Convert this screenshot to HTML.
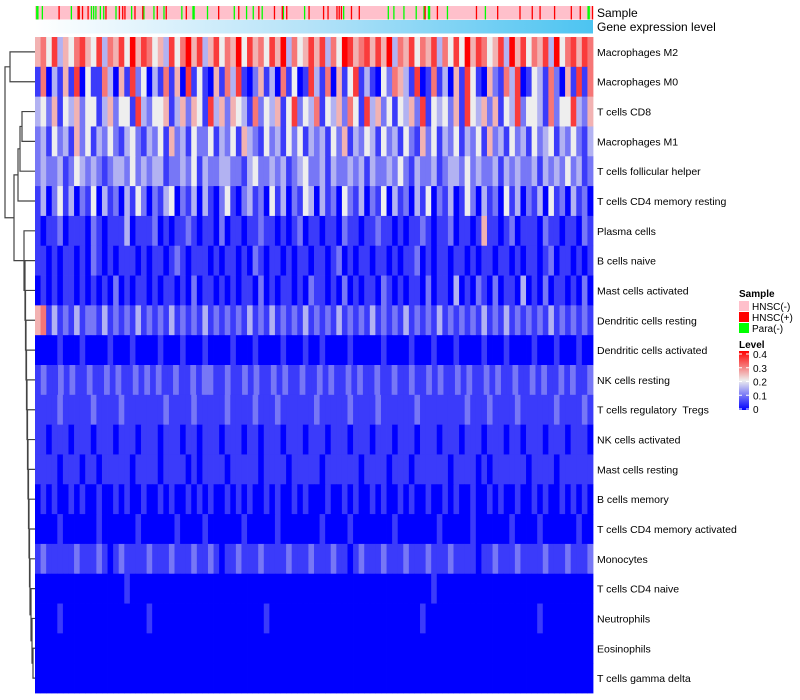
<!DOCTYPE html>
<html><head><meta charset="utf-8"><style>
body{margin:0;background:#fff;}
svg{display:block;font-family:"Liberation Sans",sans-serif;}
text{white-space:pre;}
</style></head><body>
<svg id="c" width="800" height="700"></svg>
<script>
const rowNames=["Macrophages M2","Macrophages M0","T cells CD8","Macrophages M1","T cells follicular helper","T cells CD4 memory resting","Plasma cells","B cells naive","Mast cells activated","Dendritic cells resting","Dendritic cells activated","NK cells resting","T cells regulatory  Tregs","NK cells activated","Mast cells resting","B cells memory","T cells CD4 memory activated","Monocytes","T cells CD4 naive","Neutrophils","Eosinophils","T cells gamma delta"];
const rowLevels=[
"5647354675473657485764537468573574658475647583645757364875675758365746573647485764573857465738467576",
"1603151704116305172403161507141051637102513061401731605147131042653170161305174105216370143162051716",
"3425143524413524417324451352541735254316243514724361435264173524143527143425174352514372443162447325",
"2314231524132421342132415231422413241532142314241323142513243142314215241324132415231423142341324213",
"2322312432321233242323312232413223322134223231234223132232313223242132231233242322313232231323242312",
"1302413021403120314202134021303102410231204130214303120421302140312031402130142031204130213041203120",
"1011201110210111301112010112101102011011211010120110110211011211010112101120110151101201110211011021",
"1101011010210101110101101210111010110102101101011011012010110110101120101101101011011010110120110101",
"0101011010101020101101011010201101010110201011010211010201011021010110201103010210201103010201101020",
"5613121312213121213121213121213121212131213121213121213121213121213121213121212131213121212131212121",
"0000100010000100010000100010001000010001000010001001000010000010000100010001000010001000010001000100",
"1211212112112121121212112112122112112121121211211212112121121121121121211212112121121121211212112",
"1111211111211112111111121111211111211112111211111121111121111211111121111111121112111121111112111121",
"1101110111011101110111011101101110111011011101110111011101110111011101110111011101110110111011101110",
"1111011101101111101111011110101111011111011110111110111111011110111011111101111010111111011110111111",
"0101001010010010100100101001010100101010010100101000100101001010010100100101001001010010010100101010",
"0000100000010000001000000100001000000100000100000001000010000000100000001000001000000100001000000100",
"1211111211121012111121112111211210112111211112111211121101211121112111211121111011211121111211121112",
"0000000000000000100000000000000000000000000000000000000000000000000000010000000000000000000000000000",
"0000100000000000000010000000000000000000010000000000000000000000000001000000000000000000001000000000",
"0000000000000000000000000000000000000000000000000000000000000000000000000000000000000000000000000000",
"0000000000000000000000000000000000000000000000000000000000000000000000000000000000000000000000000000"];
const nSamples=500;
const greenIdx=[1,2,6,32,39,50,52,54,58,61,72,86,97,106,115,131,141,142,154,178,189,195,203,222,241,276,316,321,330,341,348,352,353,369,403,495,496];
const redIdx=[21,38,39,42,47,63,75,78,80,89,96,109,117,135,164,182,200,214,221,225,245,258,262,270,272,274,283,290,349,360,395,414,434,445,452,465,480,488,499];
const levelTicks=[0,0.1,0.2,0.3,0.4];
const merges=[[0,1,10],[20,21,33],[19,22+1,32],[18,22+2,31],[17,22+3,30],[16,22+4,29.5],[15,22+5,29],[14,22+6,28.5],[13,22+7,28],[12,22+8,27.5],[11,22+9,27],[10,22+10,26.5],[9,22+11,26],[8,22+12,25.5],[7,22+13,25],[6,22+14,24],[2,3,22],[4,22+16,20],[5,22+17,18],[22+18,22+15,14],[22+0,22+19,5]];

const S="http://www.w3.org/2000/svg";
const svg=document.getElementById('c');
function el(t,a,p){const e=document.createElementNS(S,t);for(const k in a)e.setAttribute(k,a[k]);(p||svg).appendChild(e);return e;}
const X0=35,X1=593,Y0=37,Y1=693;
const rowH=(Y1-Y0)/rowNames.length;
function lvlColor(v){v=Math.max(0,Math.min(0.4,v));let r,g,b;
 if(v<=0.2){const t=v/0.2;r=238*t;g=238*t;b=255-17*t;}else{const t=(v-0.2)/0.2;r=238+17*t;g=238*(1-t);b=238*(1-t);}
 return `rgb(${r|0},${g|0},${b|0})`;}
const xS=i=>X0+(X1-X0)*i/nSamples;
const sb=el('g',{});
el('rect',{x:X0,y:6,width:X1-X0,height:13.5,fill:'#ffc0cb'},sb);
greenIdx.forEach(i=>{const r=el('rect',{x:xS(i),y:6,width:1.3,height:13.5,fill:'#00ff00'},sb);});
redIdx.forEach(i=>{const r=el('rect',{x:xS(i),y:6,width:1.3,height:13.5,fill:'#ff0000'},sb);});
const defs=el('defs',{});
const lg=el('linearGradient',{id:'gg',x1:0,x2:1,y1:0,y2:0},defs);
el('stop',{offset:'0',['stop-color']:'#ffffff'},lg);el('stop',{offset:'0.5',['stop-color']:'#b3e2f8'},lg);el('stop',{offset:'1',['stop-color']:'#4cc4f1'},lg);
const gb=el('rect',{x:X0,y:20,width:X1-X0,height:13.5,fill:'url(#gg)'});

const t1=el('text',{x:597,y:17,'font-size':12});t1.textContent='Sample';
const t2=el('text',{x:597,y:31,'font-size':12});t2.textContent='Gene expression level';
rowLevels.forEach((s,ri)=>{
 const g=el('g',{});
 const n=s.length,w=(X1-X0)/n;
 for(let i=0;i<n;i++){const c=el('rect',{x:X0+i*w,y:Y0+ri*rowH,width:w+0.4,height:rowH+0.4,fill:lvlColor(+s[i]*0.05)},g);
  }
 const t=el('text',{x:597,y:Y0+(ri+0.5)*rowH+4,'font-size':10.5,'xml:space':'preserve'});t.textContent=rowNames[ri];
 
});
const pos={};rowNames.forEach((_,i)=>pos[i]={y:Y0+(i+0.5)*rowH,x:X0});
const dg=el('g',{stroke:'#444','stroke-width':1.2,fill:'none'});
merges.forEach((m,k)=>{const a=pos[m[0]],b=pos[m[1]],h=m[2];
 el('path',{d:`M${a.x},${a.y}H${h}V${b.y}H${b.x}`},dg);pos[22+k]={x:h,y:(a.y+b.y)/2};});
const L=el('g',{'font-size':10});
const lt=el('text',{x:739,y:297,'font-weight':'bold'},L);lt.textContent='Sample';
[['#ffc0cb','HNSC(-)'],['#ff0000','HNSC(+)'],['#00ff00','Para(-)']].forEach((d,i)=>{
 const r=el('rect',{x:739,y:301+i*11,width:10,height:10,fill:d[0]},L);
 const t=el('text',{x:752,y:310+i*11},L);t.textContent=d[1];});
const lt2=el('text',{x:739,y:348,'font-weight':'bold'},L);lt2.textContent='Level';
const cg=el('linearGradient',{id:'cg',x1:0,x2:0,y1:1,y2:0},defs);
[0,0.25,0.5,0.75,1].forEach(f=>el('stop',{offset:f,'stop-color':lvlColor(f*0.4)},cg));
const cb=el('rect',{x:739,y:351,width:10,height:59,fill:'url(#cg)'},L);
levelTicks.forEach(v=>{const y=409-v/0.4*55;el('line',{x1:739,x2:742,y1:y,y2:y,stroke:'#fff'},L);el('line',{x1:746,x2:749,y1:y,y2:y,stroke:'#fff'},L);
 const t=el('text',{x:753,y:y+4},L);t.textContent=String(v);});
</script>
</body></html>
